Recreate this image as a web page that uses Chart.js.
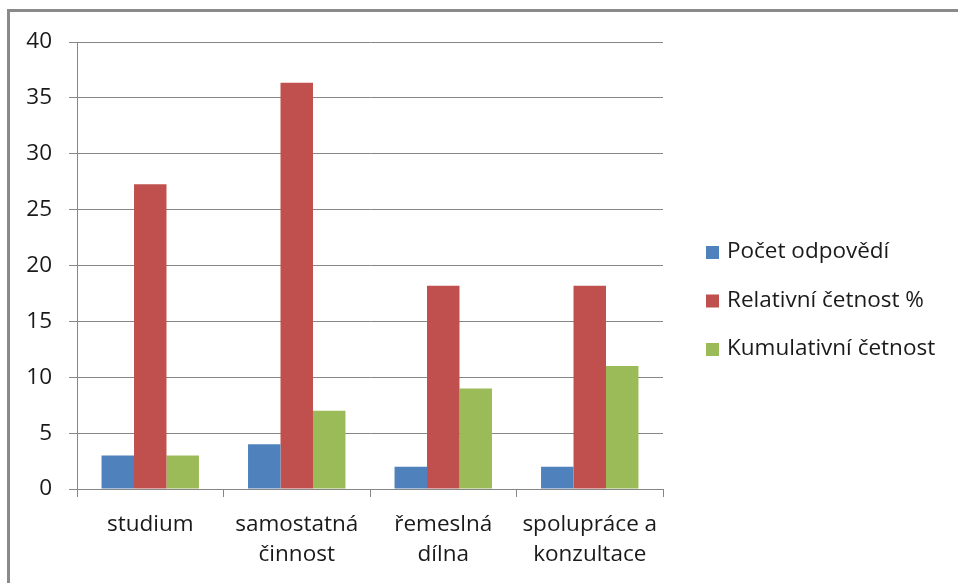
<!DOCTYPE html>
<html>
<head>
<meta charset="utf-8">
<script src="https://cdn.jsdelivr.net/npm/chart.js@4"></script>
<style>
  html, body { margin: 0; padding: 0; background: #fff; overflow: hidden; }
  #ramecek { position: absolute; left: 7px; top: 9px; width: 1000px; height: 1000px; border: 3px solid #8a8a8a; }
  #obal { position: absolute; left: 0; top: 0; width: 958px; height: 583px; }
</style>
</head>
<body>
<div id="ramecek"></div>
<div id="obal"><canvas id="graf" width="958" height="583"></canvas></div>
<script>
// kategorie a hodnoty
const kategorie = [['studium'], ['samostatná', 'činnost'], ['řemeslná', 'dílna'], ['spolupráce a', 'konzultace']];
const pocetOdpovedi = [3, 4, 2, 2];
const relativniCetnost = [27.27, 36.36, 18.18, 18.18];
const kumulativniCetnost = [3, 7, 9, 11];
const nazvyRad = ['Počet odpovědí', 'Relativní četnost %', 'Kumulativní četnost'];

const pismo = { family: '"Open Sans", "Liberation Sans", sans-serif', size: 22.5, lineHeight: 1.33 };
const barvaTextu = '#1a1a1a';

// legenda vpravo, kreslena z datasetu grafu
const legendaVpravo = {
    id: 'legendaVpravo',
    afterDraw(chart) {
        const c = chart.ctx;
        c.save();
        c.font = '22.5px "Open Sans", "Liberation Sans", sans-serif';
        c.textBaseline = 'middle';
        chart.data.datasets.forEach((ds, i) => {
            const y = 252 + i * 48.5;
            c.fillStyle = ds.backgroundColor;
            c.fillRect(706, y - 6, 13, 13);
            c.fillStyle = barvaTextu;
            c.fillText(ds.label, 727, y);
        });
        c.restore();
    }
};

const ctx = document.getElementById('graf').getContext('2d');
new Chart(ctx, {
    type: 'bar',
    data: {
        labels: kategorie,
        datasets: [
            { label: nazvyRad[0], data: pocetOdpovedi, backgroundColor: '#4F81BD' },
            { label: nazvyRad[1], data: relativniCetnost, backgroundColor: '#C0504D' },
            { label: nazvyRad[2], data: kumulativniCetnost, backgroundColor: '#9BBB59' }
        ]
    },
    options: {
        responsive: false,
        animation: false,
        datasets: { bar: { categoryPercentage: 0.665, barPercentage: 1 } },
        layout: { padding: { top: 42, bottom: 0, left: 0, right: 295 } },
        plugins: {
            tooltip: { enabled: false },
            legend: { display: false }
        },
        scales: {
            x: {
                grid: { display: true, drawOnChartArea: false, drawTicks: true, tickLength: 8, color: '#868686' },
                border: { color: '#868686' },
                ticks: { color: barvaTextu, font: pismo, padding: 13, maxRotation: 0 },
                afterFit: (s) => { s.height = 94; }
            },
            y: {
                min: 0, max: 40,
                ticks: { stepSize: 5, color: barvaTextu, font: pismo, padding: 17 },
                grid: { color: '#868686', tickLength: 8 },
                border: { color: '#868686' },
                afterFit: (s) => { s.width = 77; }
            }
        }
    },
    plugins: [legendaVpravo]
});
</script>
</body>
</html>
